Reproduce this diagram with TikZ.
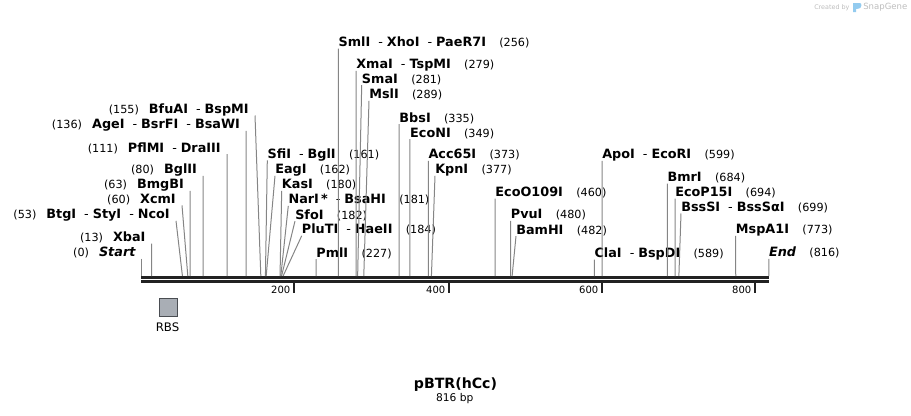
\documentclass[tikz,border=0pt]{standalone}
\usepackage{fontspec}
\setmainfont{DejaVu Sans}
\definecolor{cutgray}{HTML}{858585}
\definecolor{bargray}{HTML}{222222}
\definecolor{rbsfill}{HTML}{A9AEB5}
\definecolor{rbsdraw}{HTML}{4A4D52}
\definecolor{markgray}{HTML}{BDBDBD}
\definecolor{markblue}{HTML}{93CBEF}
\newcommand{\enz}[1]{{\fontsize{9.6}{11}\selectfont\bfseries #1}}
\newcommand{\enzsep}{\hspace{6pt}{\fontsize{9.6}{11}\selectfont -}\hspace{3pt}}
\newcommand{\bpL}[1]{{\fontsize{8.4}{10}\selectfont (#1)}\hspace{7.5pt}}
\newcommand{\bpR}[1]{\hspace{10pt}{\fontsize{8.4}{10}\selectfont (#1)}}
\begin{document}
\begin{tikzpicture}
  [x=0.75pt,y=-0.75pt,every node/.style={inner sep=0pt},
   lblL/.style={anchor=east,inner xsep=4.5pt,text height=8.45pt,text depth=1.35pt},
   lblR/.style={anchor=west,text height=8.45pt,text depth=1.35pt},
   cutline/.style={draw=cutgray,line width=0.75pt}]
  \tikzstyle{ticklbl} = [anchor=east,font=\fontsize{7.5}{9}\selectfont]
  \useasboundingbox (0,0) rectangle (911,415);

  % sequence
  \fill[bargray] (141,276) rectangle (769,279);
  \fill[bargray] (141,280) rectangle (769,283);
  \foreach \t/\tx in {200/293.5,400/448.5,600/601.5,800/754.5} {
    \fill[bargray] (\tx-1,283) rectangle (\tx+1,293);
    \node[ticklbl] (tick\t) at (\tx-3,290) {\t};
  }

  % sites with label on the left
  \foreach \nid/\pos/\tx/\ty/\txt in {
      start/0/141.7/251.7/{\bpL{0}\enz{\itshape Start}},
      xba/13/151.7/236.7/{\bpL{13}\enz{XbaI}},
      btg/53/176/214/{\bpL{53}\enz{BtgI}\enzsep\enz{StyI}\enzsep\enz{NcoI}},
      xcm/60/182/198.5/{\bpL{60}\enz{XcmI}},
      bmg/63/190.1/184/{\bpL{63}\enz{BmgBI}},
      bgl/80/203.2/169/{\bpL{80}\enz{BglII}},
      pfl/111/227/147.3/{\bpL{111}\enz{PflMI}\enzsep\enz{DraIII}},
      age/136/246.2/124/{\bpL{136}\enz{AgeI}\enzsep\enz{BsrFI}\enzsep\enz{BsaWI}},
      bfu/155/255/108.7/{\bpL{155}\enz{BfuAI}\enzsep\enz{BspMI}}} {
    \node[lblL] (\nid) at (\tx,\ty) {\txt};
    \coordinate (\nid-cut) at ({141.7+0.7685*\pos},276);
    \draw[cutline] (\nid.south east) -- (\nid-cut);
  }

  % sites with label on the right
  \foreach \nid/\pos/\tx/\ty/\txt in {
      sfi/161/267.3/153.5/{\enz{SfiI}\enzsep\enz{BglI}\bpR{161}},
      eag/162/275/169/{\enz{EagI}\bpR{162}},
      kas/180/281.7/184/{\enz{KasI}\bpR{180}},
      nar/181/288.3/199/{\enz{NarI\,*}\enzsep\enz{BsaHI}\bpR{181}},
      sfo/182/295/214.3/{\enz{SfoI}\bpR{182}},
      plu/184/301.7/229/{\enz{PluTI}\enzsep\enz{HaeII}\bpR{184}},
      pml/227/316.1/252.3/{\enz{PmlI}\bpR{227}},
      sml/256/338.4/41.7/{\enz{SmlI}\enzsep\enz{XhoI}\enzsep\enz{PaeR7I}\bpR{256}},
      xma/279/356.1/64/{\enz{XmaI}\enzsep\enz{TspMI}\bpR{279}},
      sma/281/361.7/78.3/{\enz{SmaI}\bpR{281}},
      msl/289/369/94/{\enz{MslI}\bpR{289}},
      bbs/335/399.2/117.3/{\enz{BbsI}\bpR{335}},
      econ/349/409.9/132.3/{\enz{EcoNI}\bpR{349}},
      acc/373/428.3/154/{\enz{Acc65I}\bpR{373}},
      kpn/377/435/169/{\enz{KpnI}\bpR{377}},
      ecoo/460/495.2/191.7/{\enz{EcoO109I}\bpR{460}},
      pvu/480/510.6/214/{\enz{PvuI}\bpR{480}},
      bam/482/516/229.3/{\enz{BamHI}\bpR{482}},
      cla/589/594.3/252.7/{\enz{ClaI}\enzsep\enz{BspDI}\bpR{589}},
      apo/599/602/154/{\enz{ApoI}\enzsep\enz{EcoRI}\bpR{599}},
      bmr/684/667.3/176.7/{\enz{BmrI}\bpR{684}},
      ecop/694/675/191.7/{\enz{EcoP15I}\bpR{694}},
      bss/699/681/206.7/{\enz{BssSI}\enzsep\enz{BssSαI}\bpR{699}},
      msp/773/735.7/229/{\enz{MspA1I}\bpR{773}},
      end/816/768.8/252/{\enz{\itshape End}\bpR{816}}} {
    \node[lblR] (\nid) at (\tx,\ty) {\txt};
    \coordinate (\nid-cut) at ({141.7+0.7685*\pos},276);
    \draw[cutline] (\nid.south west) -- (\nid-cut);
  }

  % features
  \node[draw=rbsdraw,fill=rbsfill,line width=0.75pt,minimum size=13.5pt] (rbs) at (168,307.8) {};
  \node[font=\fontsize{8.8}{10}\selectfont] (rbslbl) at (167.5,327.3) {RBS};

  % title
  \node[font=\fontsize{10.6}{12}\selectfont\bfseries] (title) at (455.5,384.5) {pBTR(hCc)};
  \node[font=\fontsize{8}{10}\selectfont] (size) at (454.7,398.5) {816 bp};

  % watermark
  \node[anchor=west,text=markgray,font=\fontsize{4.8}{6}\selectfont] (made) at (814,7.5) {Created by};
  \fill[markblue] (853,3) -- (860,3) .. controls (862,3) and (862,8) .. (859,8.5) -- (856,9) -- (856,12) -- (853,12) -- cycle;
  \node[anchor=west,text=markgray,font=\fontsize{6.4}{8}\selectfont] (snap) at (863,7.5) {SnapGene};
\end{tikzpicture}
\end{document}
